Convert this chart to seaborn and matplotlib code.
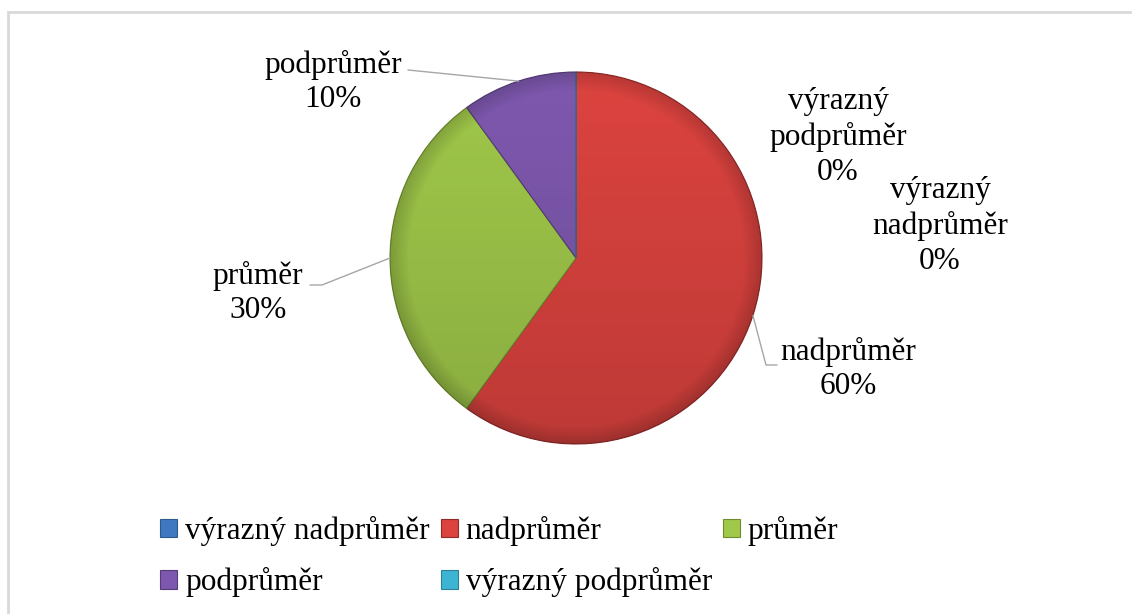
import matplotlib.pyplot as plt
import numpy as np
import seaborn as sns
from matplotlib.patches import Circle, Rectangle

sns.set_theme(style="white")
plt.rcParams["font.family"] = ["Liberation Serif", "DejaVu Serif"]

categories = ["výrazný nadprůměr", "nadprůměr", "průměr", "podprůměr", "výrazný podprůměr"]
shares = [0, 60, 30, 10, 0]
colors = ["#3F78C0", "#DC433F", "#A0C84A", "#7E58AE", "#3CB4D2"]
edge_colors = ["#2C5A8C", "#8E2A28", "#6E8C2E", "#553C78", "#2E8099"]

W, H = 1132, 614
fig = plt.figure(figsize=(W / 100, H / 100), dpi=100)
ax = fig.add_axes([0, 0, 1, 1])

cx, cy, r = 576, H - 258, 186
wedges, _ = ax.pie(shares, colors=colors, startangle=90, counterclock=False,
                   center=(cx, cy), radius=r,
                   wedgeprops=dict(linewidth=0.8))
for w, ec in zip(wedges, edge_colors):
    w.set_edgecolor(ec)

# soft shading: darker toward the bottom and along the rim
n = 400
yy, xx = np.mgrid[0:n, 0:n]
u = (xx - n / 2) / (n / 2)
v = (yy - n / 2) / (n / 2)
rho = np.sqrt(u ** 2 + v ** 2)
alpha = 0.14 * (v + 1) / 2 + 0.16 * np.clip((rho - 0.9) / 0.1, 0, 1)
rgba = np.zeros((n, n, 4))
rgba[..., 3] = np.clip(alpha, 0, 1)
shade = ax.imshow(rgba, extent=(cx - r, cx + r, cy - r, cy + r),
                  origin="upper", zorder=3, aspect="auto", interpolation="bilinear")
shade.set_clip_path(Circle((cx, cy), r, transform=ax.transData))

ax.set_xlim(0, W)
ax.set_ylim(0, H)
ax.set_aspect("equal")
ax.axis("off")

# chart frame (only top and left are inside the picture)
ax.add_patch(Rectangle((8, -10), W + 20, H - 12 + 10, fill=False,
                       edgecolor="#D9D9D9", linewidth=2, zorder=0))


def edge_point(w):
    ang = np.deg2rad((w.theta1 + w.theta2) / 2)
    return cx + r * np.cos(ang), cy + r * np.sin(ang)


line_kw = dict(color="#A6A6A6", linewidth=1, zorder=4)
lab_kw = dict(fontsize=22.5, ha="center", va="center", color="black", linespacing=1.27)

# podprůměr
px, py = edge_point(wedges[3])
ax.plot([408, px], [H - 70, py], **line_kw)
ax.text(333, H - 82, f"{categories[3]}\n{shares[3]}%", **lab_kw)
# průměr
px, py = edge_point(wedges[2])
ax.plot([310, 322, px], [H - 285, H - 285, py], **line_kw)
ax.text(258, H - 293, f"{categories[2]}\n{shares[2]}%", **lab_kw)
# nadprůměr
px, py = edge_point(wedges[1])
ax.plot([px, 766, 777], [py, H - 365, H - 365], **line_kw)
ax.text(848, H - 369, f"{categories[1]}\n{shares[1]}%", **lab_kw)
# zero shares
ax.text(838, H - 137, "výrazný\npodprůměr\n" + f"{shares[4]}%", **lab_kw)
ax.text(940, H - 226, "výrazný\nnadprůměr\n" + f"{shares[0]}%", **lab_kw)

order = [0, 3, 1, 4, 2]
leg = ax.legend([wedges[i] for i in order], [categories[i] for i in order],
                ncol=3, loc="upper left", bbox_to_anchor=(160 / W, 1 - 516 / H),
                frameon=False, fontsize=22.5, labelcolor="black",
                handlelength=0.55, handleheight=0.55,
                handletextpad=0.25, columnspacing=0.35, labelspacing=0.68,
                borderpad=0, borderaxespad=0)

fig.savefig("out.png", dpi=100)
